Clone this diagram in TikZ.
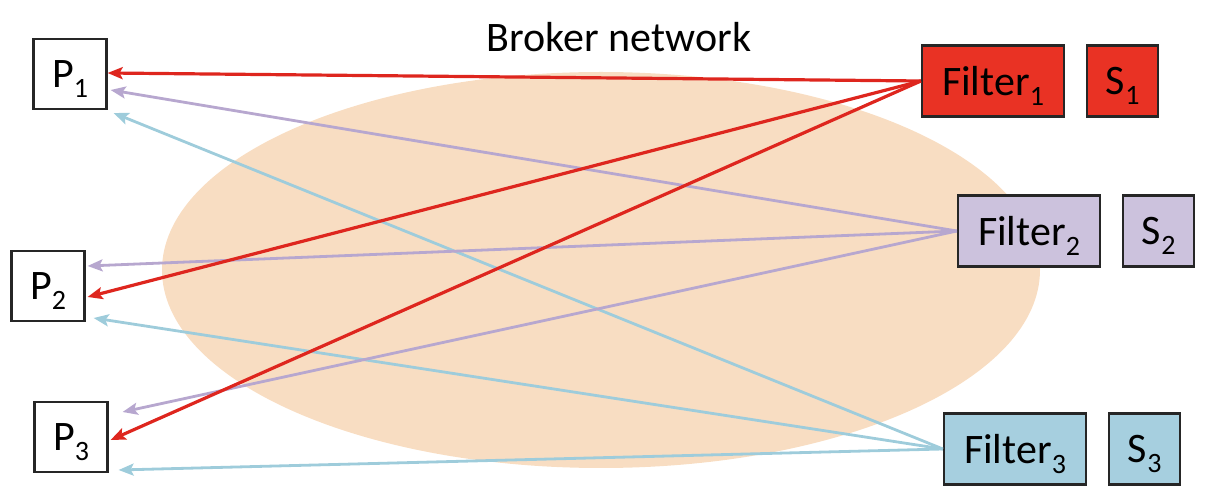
\documentclass[tikz,border=0pt]{standalone}
\usepackage{fontspec}
\setmainfont{Carlito}
\usetikzlibrary{arrows.meta,positioning}

\definecolor{brokerbg}{RGB}{248,221,194}
\definecolor{filtred}{RGB}{233,50,36}
\definecolor{filtlav}{RGB}{204,194,221}
\definecolor{filtblue}{RGB}{166,207,223}
\definecolor{linered}{RGB}{222,38,30}
\definecolor{linelav}{RGB}{183,167,207}
\definecolor{lineblue}{RGB}{158,204,219}

\newcommand{\idx}[1]{\smash{\raisebox{-5pt}{\fontsize{14}{14}\selectfont #1}}}

\begin{document}
\begin{tikzpicture}[
  x=0.5pt, y=-0.5pt,
  >=Stealth,
  node distance=10.5pt,
  every node/.style={font=\fontsize{21}{24}\selectfont, inner sep=0pt},
  pbox/.style={draw=black!85, line width=1.1pt, fill=white, minimum width=36.5pt, minimum height=35pt},
  fbox/.style={draw=black!85, line width=1.1pt, minimum width=71pt, minimum height=35.5pt},
  sbox/.style={draw=black!85, line width=1.1pt, minimum width=35.5pt, minimum height=35.5pt},
  conn/.style={line width=1.4pt, -{Stealth[length=7.5pt,width=6pt,inset=1.5pt]}}
]
\useasboundingbox (0,0) rectangle (1206,496);

% broker network
\fill[brokerbg] (601,270) ellipse [x radius=219.5pt, y radius=99pt];
\node (title) [anchor=base] at (619,52) {Broker network};

% publishers
\node (p1) [pbox] at (70,74) {P\idx{1}};
\node (p2) [pbox] at (48,286) {P\idx{2}};
\node (p3) [pbox] at (71,437) {P\idx{3}};

% filters and subscribers
\node (f1) [fbox, fill=filtred] at (993,81) {Filter\idx{1}};
\node (s1) [sbox, fill=filtred, right=of f1] {S\idx{1}};
\node (f2) [fbox, fill=filtlav] at (1029,231) {Filter\idx{2}};
\node (s2) [sbox, fill=filtlav, right=of f2] {S\idx{2}};
\node (f3) [fbox, fill=filtblue] at (1015,449) {Filter\idx{3}};
\node (s3) [sbox, fill=filtblue, right=of f3] {S\idx{3}};

% notifications
\draw[conn, lineblue] (f3.west) -- ([xshift=3pt,yshift=-19.5pt]p1.east);
\draw[conn, lineblue] (f3.west) -- ([xshift=4pt,yshift=-16pt]p2.east);
\draw[conn, lineblue] (f3.west) -- ([xshift=5pt,yshift=-16.5pt]p3.east);

\draw[conn, linelav] (f2.west) -- ([xshift=1.5pt,yshift=-8pt]p1.east);
\draw[conn, linelav] (f2.west) -- ([xshift=1pt,yshift=10pt]p2.east);
\draw[conn, linelav] (f2.west) -- ([xshift=7pt,yshift=12.5pt]p3.east);

\draw[conn, linered, line width=1.6pt] (f1.west) -- ([yshift=0.5pt]p1.east);
\draw[conn, linered, line width=1.6pt] (f1.west) -- ([xshift=1pt,yshift=-5.5pt]p2.east);
\draw[conn, linered, line width=1.6pt] (f1.west) -- ([xshift=1pt,yshift=-1.5pt]p3.east);
\end{tikzpicture}
\end{document}
